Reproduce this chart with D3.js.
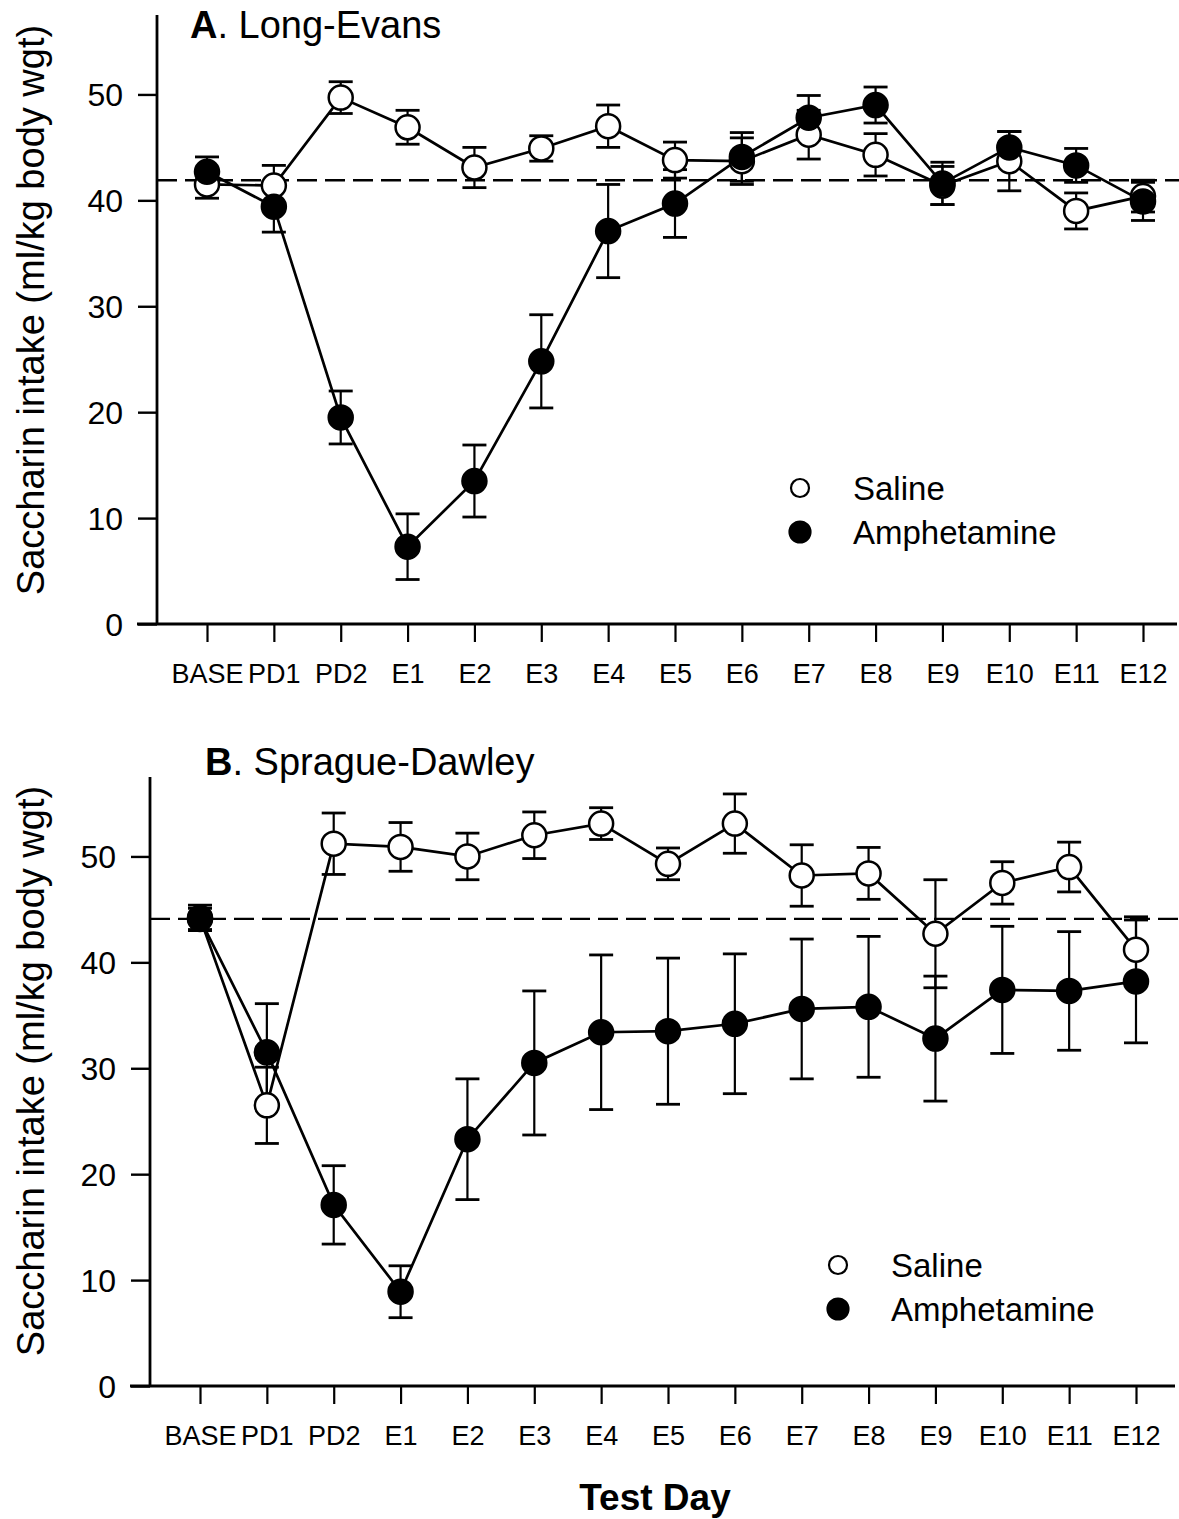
<!DOCTYPE html>
<html><head><meta charset="utf-8">
<script src="https://cdn.jsdelivr.net/npm/d3@7"></script>
<style>
body{margin:0;background:#fff;}
svg{display:block;}
text{font-family:"Liberation Sans",Arial,Helvetica,sans-serif;fill:#000;}
</style>
</head><body><svg id="c" width="1179" height="1519"></svg>
<script>
const categories = ["BASE","PD1","PD2","E1","E2","E3","E4","E5","E6","E7","E8","E9","E10","E11","E12"];
const yTicks = [0,10,20,30,40,50];

// Panel A: Long-Evans
const leSaline    = [41.5,41.4,49.7,46.9,43.1,44.9,47.0,43.8,43.7,46.2,44.3,41.4,43.7,39.0,40.4];
const leSalineErr = [1.3,1.9,1.5,1.6,1.9,1.2,2.0,1.7,2.2,2.3,2.0,1.8,2.8,1.7,1.5];
const leAmph      = [42.7,39.4,19.5,7.3,13.5,24.8,37.1,39.7,44.1,47.8,49.0,41.6,45.0,43.3,39.9];
const leAmphErr   = [1.4,2.4,2.5,3.1,3.4,4.4,4.4,3.2,2.3,2.1,1.7,2.0,1.5,1.6,1.8];
const leBaseline  = 41.9;

// Panel B: Sprague-Dawley
const sdSaline    = [44.2,26.5,51.2,50.9,50.0,52.0,53.1,49.3,53.1,48.2,48.4,42.7,47.5,49.0,41.2];
const sdSalineErr = [1.2,3.6,2.9,2.3,2.2,2.2,1.5,1.5,2.8,2.9,2.45,5.1,2.0,2.35,3.1];
const sdAmph      = [44.1,31.5,17.1,8.9,23.3,30.5,33.4,33.5,34.2,35.6,35.8,32.8,37.4,37.3,38.2];
const sdAmphErr   = [1.0,4.6,3.7,2.45,5.7,6.8,7.3,6.9,6.6,6.6,6.65,5.9,6.0,5.6,5.8];
const sdBaseline  = 44.1;

const legendLabels = ["Saline","Amphetamine"];
const yTitle = "Saccharin intake (ml/kg body wgt)";
const xTitle = "Test Day";

const svg = d3.select("#c");

function panel(cfg){
  const g = svg.append("g");
  const x = d3.scalePoint().domain(categories).range([cfg.x0, cfg.x1]);
  const y = d3.scaleLinear().domain([0,57.5]).range([cfg.yBottom, cfg.yTop]);

  // y axis
  const ya = g.append("g").attr("transform",`translate(${cfg.axisX},0)`)
    .call(d3.axisLeft(y).tickValues(yTicks).tickFormat(d3.format("d")).tickSize(19).tickSizeOuter(0).tickPadding(15));
  ya.select(".domain").remove();
  ya.selectAll(".tick line").attr("stroke","#000").attr("stroke-width",2.4);
  ya.selectAll(".tick text").style("font-size","32px").attr("dy","0.36em");
  g.append("line").attr("x1",cfg.axisX).attr("x2",cfg.axisX).attr("y1",cfg.yTop).attr("y2",cfg.yBottom)
    .attr("stroke","#000").attr("stroke-width",2.8);

  // x axis
  const xa = g.append("g").attr("transform",`translate(0,${cfg.yBottom})`)
    .call(d3.axisBottom(x).tickSize(18).tickSizeOuter(0).tickPadding(22));
  xa.select(".domain").remove();
  xa.selectAll(".tick line").attr("stroke","#000").attr("stroke-width",2.2);
  xa.selectAll(".tick text").style("font-size","27px");
  g.append("line").attr("x1",cfg.axisX-20).attr("x2",cfg.xEnd).attr("y1",cfg.yBottom).attr("y2",cfg.yBottom)
    .attr("stroke","#000").attr("stroke-width",2.8);

  // dashed baseline
  g.append("line").attr("x1",cfg.axisX).attr("x2",1179).attr("y1",y(cfg.baseline)).attr("y2",y(cfg.baseline))
    .attr("stroke","#000").attr("stroke-width",2.4).attr("stroke-dasharray","20,8");

  const series = [
    {vals:cfg.sal, err:cfg.salErr, fill:"#fff"},
    {vals:cfg.amp, err:cfg.ampErr, fill:"#000"}
  ];
  const line = d3.line().x((d,i)=>x(categories[i])).y(d=>y(d));
  series.forEach(s=>{
    g.append("path").datum(s.vals).attr("d",line).attr("fill","none").attr("stroke","#000").attr("stroke-width",2.7);
  });
  series.forEach(s=>{
    const eb = g.append("g");
    s.vals.forEach((v,i)=>{
      const cx = x(categories[i]);
      const lo = y(v - s.err[i]), hi = y(v + s.err[i]);
      eb.append("line").attr("x1",cx).attr("x2",cx).attr("y1",lo).attr("y2",hi).attr("stroke","#000").attr("stroke-width",2.2);
      [lo,hi].forEach(yy=>eb.append("line").attr("x1",cx-12).attr("x2",cx+12).attr("y1",yy).attr("y2",yy).attr("stroke","#000").attr("stroke-width",2.8));
    });
  });
  series.forEach(s=>{
    g.append("g").selectAll("circle").data(s.vals).join("circle")
      .attr("cx",(d,i)=>x(categories[i])).attr("cy",d=>y(d)).attr("r",12)
      .attr("fill",s.fill).attr("stroke","#000").attr("stroke-width",2.5);
  });

  // title
  const t = g.append("text").attr("x",cfg.titleX).attr("y",cfg.titleY).style("font-size","38px");
  t.append("tspan").attr("font-weight","bold").text(cfg.letter);
  t.append("tspan").text(". " + cfg.name);

  // y title
  g.append("text").attr("transform",`translate(44,${cfg.yLabelC}) rotate(-90)`)
    .attr("text-anchor","middle").style("font-size","38px").text(yTitle);

  // legend
  const lg = g.append("g");
  [["#fff",0],["#000",1]].forEach(([f,i])=>{
    lg.append("circle").attr("cx",cfg.legX).attr("cy",cfg.legY + i*44).attr("r", i===0?9:10.5)
      .attr("fill",f).attr("stroke","#000").attr("stroke-width",2.2);
    lg.append("text").attr("x",cfg.legX+53).attr("y",cfg.legY + i*44).attr("dy","0.36em")
      .style("font-size","33px").text(legendLabels[i]);
  });
}

panel({x0:207,x1:1143,axisX:157,xEnd:1177,yTop:15,yBottom:624,baseline:leBaseline,
  sal:leSaline,salErr:leSalineErr,amp:leAmph,ampErr:leAmphErr,
  letter:"A",name:"Long-Evans",titleX:190,titleY:38,yLabelC:310,legX:800,legY:488});
panel({x0:200,x1:1136,axisX:150,xEnd:1175,yTop:777,yBottom:1386,baseline:sdBaseline,
  sal:sdSaline,salErr:sdSalineErr,amp:sdAmph,ampErr:sdAmphErr,
  letter:"B",name:"Sprague-Dawley",titleX:205,titleY:775,yLabelC:1071,legX:838,legY:1265});

svg.append("text").attr("x",655).attr("y",1510).attr("text-anchor","middle")
  .attr("font-weight","bold").style("font-size","37px").text(xTitle);
</script>
</body></html>
